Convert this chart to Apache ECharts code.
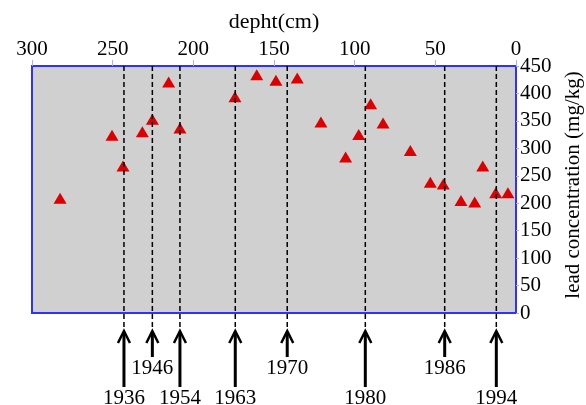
<!DOCTYPE html>
<html>
<head>
    <meta charset="UTF-8">
    <title>lead concentration vs depth</title>
    <script src="https://cdn.jsdelivr.net/npm/echarts@6/dist/echarts.min.js"></script>
    <style>
        html, body { margin: 0; padding: 0; background: #fff; }
        #chart { width: 586px; height: 405px; }
    </style>
</head>
<body>
<div id="chart"></div>
<script type="text/javascript">
    // depth (cm) and lead concentration (mg/kg) of the samples
    var depths = [282.6, 250.4, 243.6, 231.6, 225.4, 215.3, 208.3, 174.2, 160.7, 148.8, 135.6,
                  120.9, 105.6, 97.5, 90.1, 82.4, 65.5, 53.1, 45.1, 34.1, 25.6, 20.6, 12.6, 5.0];
    var leads = [209, 324, 268, 330, 353, 421, 337, 394, 434, 424, 428,
                 348, 284, 325, 381, 346, 296, 238, 235, 205, 202, 268, 219, 219];

    // dated horizons
    var years = ['1936', '1946', '1954', '1963', '1970', '1980', '1986', '1994'];
    var yearDepths = [243.0, 225.4, 208.3, 174.0, 141.8, 93.4, 44.2, 12.2];
    var shortArrow = [false, true, false, false, true, false, true, false];

    var font = 'Liberation Serif';
    var myChart = echarts.init(document.getElementById('chart'));

    var option = {
        animation: false,
        backgroundColor: '#ffffff',
        grid: {
            left: 32, right: 70, top: 66, bottom: 92,
            outerBoundsMode: 'none',
            containLabel: false,
            show: true,
            backgroundColor: '#d0d0d0',
            borderColor: '#3030ff',
            borderWidth: 2
        },
        xAxis: {
            type: 'value',
            position: 'top',
            inverse: true,
            min: 0, max: 300, interval: 50,
            name: 'depht(cm)',
            nameLocation: 'middle',
            nameGap: 33,
            nameTextStyle: { fontFamily: font, fontSize: 22, color: '#000' },
            axisLine: { onZero: false, lineStyle: { color: '#3030ff', width: 2 } },
            axisTick: { length: 6, lineStyle: { color: '#aab0ff' } },
            axisLabel: { fontFamily: font, fontSize: 21, color: '#000', margin: 6 },
            splitLine: { show: false }
        },
        yAxis: {
            type: 'value',
            position: 'right',
            min: 0, max: 450, interval: 50,
            axisLine: { show: true, onZero: false, lineStyle: { color: '#3030ff', width: 2 } },
            axisTick: { show: true, length: 3, lineStyle: { color: '#aab0ff' } },
            axisLabel: { fontFamily: font, fontSize: 21, color: '#000', margin: 4 },
            splitLine: { show: false }
        },
        series: [{
            type: 'scatter',
            symbol: 'triangle',
            symbolSize: [13, 11],
            itemStyle: { color: '#dd0000', opacity: 1 },
            data: depths.map(function (d, i) { return [d, leads[i]]; }),
            z: 5
        }]
    };
    myChart.setOption(option);

    // dashed lines, arrows and year labels placed through the axis scales
    var graphics = [];
    var yTop = myChart.convertToPixel({ yAxisIndex: 0 }, 450);
    var yBot = myChart.convertToPixel({ yAxisIndex: 0 }, 0);
    for (var i = 0; i < years.length; i++) {
        var x = myChart.convertToPixel({ xAxisIndex: 0 }, yearDepths[i]);
        var tip = yBot + 18;
        var end = shortArrow[i] ? yBot + 44 : yBot + 74;
        graphics.push({
            type: 'line', z: 10,
            shape: { x1: x, y1: yTop, x2: x, y2: yBot + 15 },
            style: { stroke: '#000', lineWidth: 1.5, lineDash: [5, 3] }
        });
        graphics.push({
            type: 'line', z: 10,
            shape: { x1: x, y1: tip + 1, x2: x, y2: end },
            style: { stroke: '#000', lineWidth: 3 }
        });
        graphics.push({
            type: 'polyline', z: 10,
            shape: { points: [[x - 6, tip + 12], [x, tip], [x + 6, tip + 12]] },
            style: { stroke: '#000', lineWidth: 2.5, fill: null }
        });
        graphics.push({
            type: 'text', z: 10,
            x: x, y: end + 11,
            style: {
                text: years[i], fontFamily: font, fontSize: 21, fill: '#000',
                align: 'center', verticalAlign: 'middle'
            }
        });
    }
    graphics.push({
        type: 'text',
        x: 573, y: 185,
        rotation: Math.PI / 2,
        style: {
            text: 'lead concentration (mg/kg)', fontFamily: font, fontSize: 21, fill: '#000',
            align: 'center', verticalAlign: 'middle'
        }
    });
    myChart.setOption({ graphic: graphics });
</script>
</body>
</html>
